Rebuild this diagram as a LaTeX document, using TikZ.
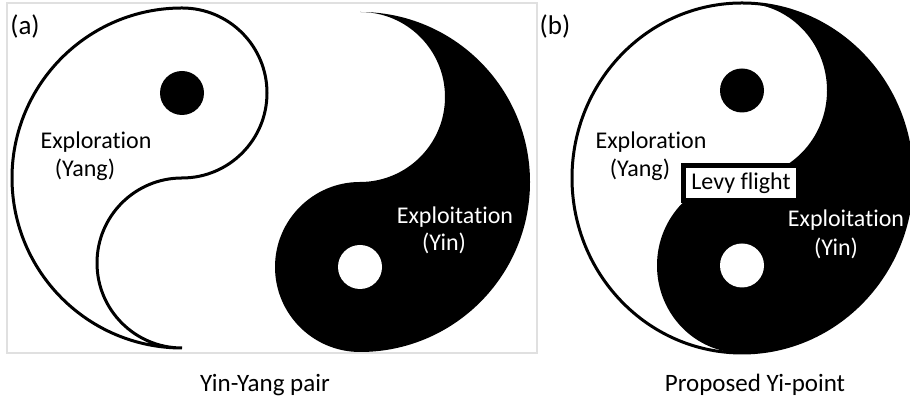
\documentclass[tikz,border=0pt]{standalone}
\usepackage{fontspec}
\setmainfont{Carlito}[Ligatures=NoCommon]
\usepackage{tikz}
\usetikzlibrary{positioning}

\tikzset{
  lbl/.style={font=\fontsize{12}{14}\selectfont, inner sep=0pt},
  wlbl/.style={lbl, text=white},
  tag/.style={font=\fontsize{13.5}{15}\selectfont, inner sep=0pt},
  captxt/.style={font=\fontsize{12.5}{15}\selectfont, inner sep=0pt},
  rim/.style={line width=1.5pt, line join=bevel}
}

\begin{document}
\begin{tikzpicture}[x=0.5pt,y=0.5pt]
\useasboundingbox (0,0) rectangle (910,415);

% (a) frame
\draw[black!12, line width=0.6pt] (7,62) rectangle (537,412);

% (a) yang half
\draw[rim, fill=white] (182,67) arc[start angle=270, end angle=90, radius=170]
  arc[start angle=90, end angle=-90, radius=85]
  arc[start angle=90, end angle=270, radius=85] -- cycle;
\fill (182,322) circle (22);

% (a) yin half
\fill (360,403) arc[start angle=90, end angle=-90, radius=170]
  arc[start angle=270, end angle=90, radius=85]
  arc[start angle=-90, end angle=90, radius=85] -- cycle;
\fill[white] (360,148) circle (22);

\node[tag] (taga) at (25,388) {(a)};
\node[lbl] (explora) at (96,273) {Exploration};
\node[lbl] (yanga) at (85,245) {(Yang)};
\node[wlbl] (exploia) at (455,198) {Exploitation};
\node[wlbl] (yina) at (444,172) {(Yin)};

% (b) whole symbol
\filldraw[rim, fill=white] (742,237) ellipse [x radius=170, y radius=175];
\fill (742,412) arc[start angle=90, end angle=-90, x radius=170, y radius=175]
  arc[start angle=270, end angle=90, x radius=85, y radius=87.5]
  arc[start angle=-90, end angle=90, x radius=85, y radius=87.5] -- cycle;
\fill (742,324.5) circle (22);
\fill[white] (742,149.5) circle (22);

\node[tag] (tagb) at (555,388) {(b)};
\node[lbl] (explorb) at (651,273) {Exploration};
\node[lbl] (yangb) at (640,245) {(Yang)};
\node[wlbl] (exploib) at (846,195) {Exploitation};
\node[wlbl] (yinb) at (836,167) {(Yin)};
\node[lbl, draw, fill=white, line width=2.2pt, minimum width=57.5pt,
  minimum height=17.5pt] (levy) at (741,232) {Levy flight};

% captions
\node[captxt] (capa) at (265,30) {Yin-Yang pair};
\node[captxt] (capb) at (755,30) {Proposed Yi-point};
\end{tikzpicture}
\end{document}
